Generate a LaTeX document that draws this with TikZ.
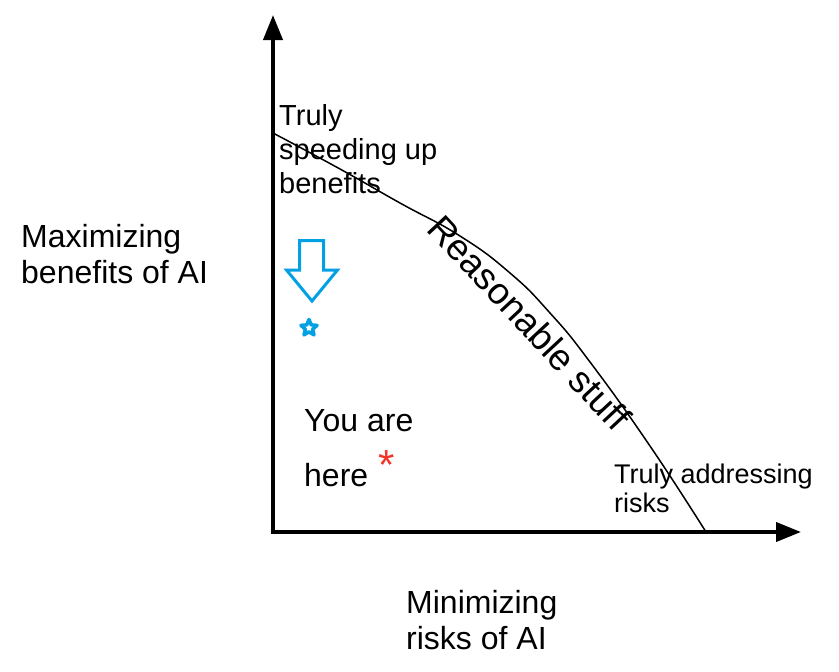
\documentclass[tikz,border=0pt]{standalone}
\usepackage{fontspec}
\setmainfont{Liberation Sans}
\usepackage{tkz-euclide}
\usetikzlibrary{arrows.meta,shapes.geometric}
\definecolor{ArrowClr}{RGB}{3,160,228}
\definecolor{HereClr}{RGB}{240,52,40}

\begin{document}
\begin{tikzpicture}[x=1pt,y=-1pt]
\useasboundingbox (0,0) rectangle (839,672);
\tikzset{lbl/.style={inner sep=0pt,align=left,anchor=base west}}

\tkzDefPoints{273/532/O,273/15/Y,801/532/X}
\tkzDefPoints{273/133/C0,340/169/C1,400/203/C2,460/236/C3,510/273/C4,550/313/C5,590/362/C6,650/446/C7,706/532/C8}
\tkzDefPoints{299.5/240.5/A1,323.5/240.5/A2,323.5/270/A3,337.5/270/A4,312/301/A5,286.5/270/A6,299.5/270/A7}

% axes
\draw[line width=4pt,line join=miter,{Triangle[length=25pt,width=19pt]}-{Triangle[length=25pt,width=19pt]}] (Y) -- (O) -- (X);

% frontier
\draw[line width=1.5pt] plot[smooth,tension=0.8] coordinates {(C0) (C1) (C2) (C3) (C4) (C5) (C6) (C7) (C8)};

% blue arrow and star
\tkzDrawPolygon[color=ArrowClr,line width=3pt,line join=miter](A1,A2,A3,A4,A5,A6,A7)
\node[star,star points=5,star point ratio=2.2,minimum size=17pt,inner sep=0pt,draw=ArrowClr,line width=3.5pt,line join=round] (star) at (309,328) {};

% labels (base = last line)
\node[lbl,font=\fontsize{32}{36}\selectfont] (ylab) at (21,283) {Maximizing\\benefits of AI};
\node[lbl,font=\fontsize{32}{36}\selectfont] (xlab) at (406,649) {Minimizing\\risks of AI};
\node[lbl,font=\fontsize{32}{55}\selectfont] (here) at (304,486) {You are\\here};
\node[lbl,font=\fontsize{29}{34}\selectfont] (benefit) at (279,193) {Truly\\speeding up\\benefits};
\node[lbl,font=\fontsize{27}{29}\selectfont] (risk) at (614,512) {Truly addressing\\risks};
\node[lbl,font=\fontsize{37}{37}\selectfont,rotate=-47] (reason) at (425,230) {Reasonable stuff};
\node[inner sep=0pt,anchor=base,text=HereClr,font=\fontsize{42}{42}\selectfont] (ast) at (387,479) {*};

\end{tikzpicture}
\end{document}
